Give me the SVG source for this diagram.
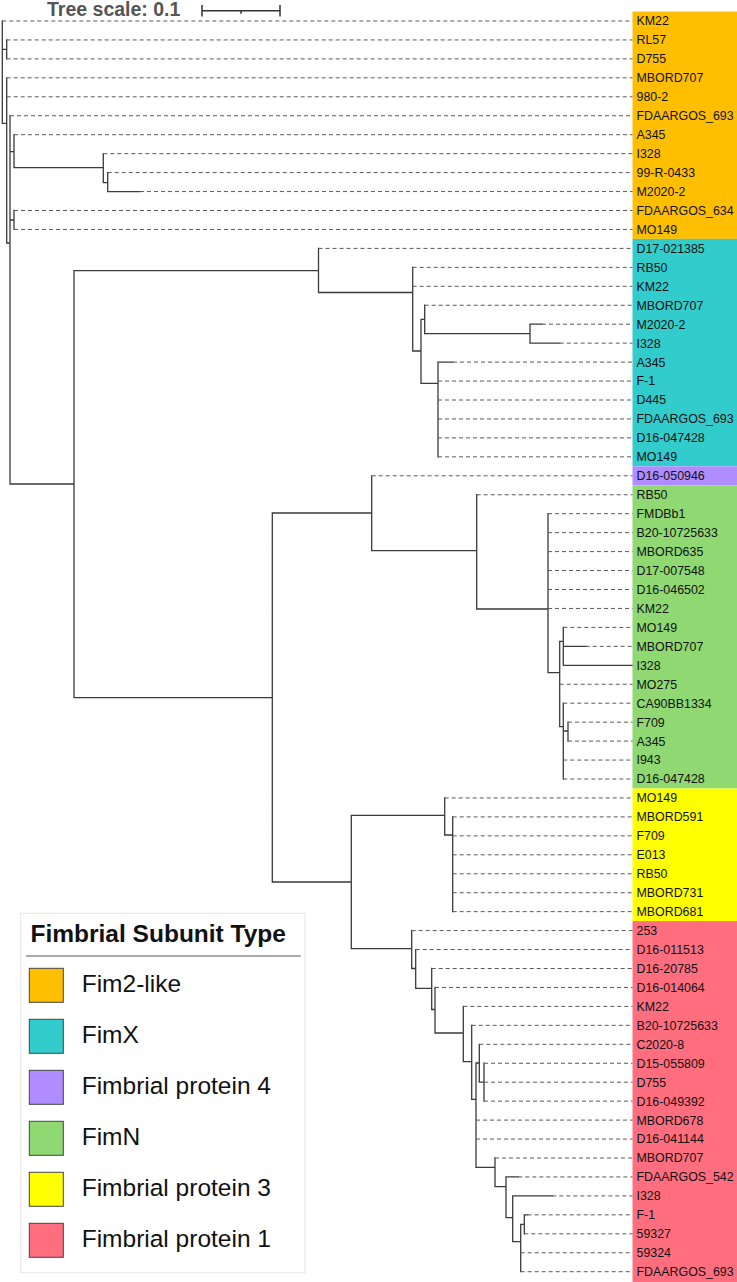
<svg xmlns="http://www.w3.org/2000/svg" width="737" height="1282" viewBox="0 0 737 1282">
<style>
.br{fill:none;stroke:#3a3a3a;stroke-width:1.3;stroke-linecap:square}
.ld{fill:none;stroke:#5a5a5a;stroke-width:1;stroke-dasharray:4 3}
.lb{font-family:"Liberation Sans",Arial,sans-serif;font-size:12.4px;fill:#111}
.lg{font-family:"Liberation Sans",Arial,sans-serif;font-size:24.5px;fill:#111}
.sw{stroke:#444;stroke-width:1}
</style>
<rect width="737" height="1282" fill="#fff"/>
<g id="scale">
<text x="47" y="15.5" font-family="'Liberation Sans',Arial,sans-serif" font-size="19.5" font-weight="bold" fill="#555">Tree scale: 0.1</text>
<path d="M202,10.7H280M202,5V16.5M280,5V16.5M241,10.7V13.8" fill="none" stroke="#333" stroke-width="1.5"/>
</g>
<g id="bands">
<rect x="632.5" y="11.5" width="104.5" height="227.4" fill="#FFBF00"/>
<rect x="632.5" y="238.9" width="104.5" height="227.4" fill="#33CCCC"/>
<rect x="632.5" y="466.3" width="104.5" height="19" fill="#AF8CFF"/>
<rect x="632.5" y="485.3" width="104.5" height="303.2" fill="#8FD872"/>
<rect x="632.5" y="788.5" width="104.5" height="132.6" fill="#FFFF00"/>
<rect x="632.5" y="921.1" width="104.5" height="360.9" fill="#FF6E7F"/>
</g>
<g id="connectors">
<path class="br" d="M2.3,21V123.3M2.3,49.3H6.7M6.7,39.95V58.9M2.3,123.3H6.7M6.7,77.85V243M6.7,243H10M10,115.75V484M10,151.7H14M14,134.7V167.7M14,167.7H103.3M103.3,153.65V182.7M103.3,182.7H107.7M107.7,172.6V191.55M107.7,191.55H140M10,220H14M14,210.5V229.45M10,484H74M74,270.7V697.7
M74,270.7H318.5M318.5,248.4V292.5M318.5,292.5H412.7M412.7,267.35V351M412.7,351H421M421,319.3V383.3M421,319.3H424.7M424.7,305.25V333.7M424.7,333.7H530M530,324.2V343.15M530,324.2H542M530,343.15H559.7M421,383.3H438M438,362.1V456.85M438,362.1H453
M74,697.7H272.3M272.3,513V882M272.3,513H371.7M371.7,475.8V550.7M371.7,550.7H476.7M476.7,494.75V609M476.7,609H548M548,513.7V672.7M548,672.7H559.7M559.7,641.3V726.7M559.7,641.3H563.3M563.3,627.4V665.3M563.3,646.35H585.7M563.3,665.3H632M559.7,726.7H563.3M563.3,703.2V779M563.3,731H568M568,722.15V741.1
M272.3,882H351.3M351.3,815.3V948.7M351.3,815.3H444.7M444.7,797.95V835M444.7,835H452.7M452.7,816.9V911.65
M351.3,948.7H411.7M411.7,930.6V968.5M411.7,968.5H415.7M415.7,949.55V988.3M415.7,988.3H431.7M431.7,968.5V1009.5M431.7,1009.5H435M435,987.45V1033M435,1033H463.3M463.3,1006.4V1061.7M463.3,1061.7H471.7M471.7,1025.35V1099.3M471.7,1099.3H476M476,1063V1167.3M476,1063H479.3M479.3,1044.3V1082.2M479.3,1082.2H484M484,1063.25V1101.15M476,1167.3H495M495,1158V1186.7M495,1186.7H506M506,1176.95V1217.7M506,1176.95H518.3M506,1217.7H512.7M512.7,1195.9V1241.7M512.7,1195.9H552.3M512.7,1241.7H520.7M520.7,1224.3V1271.7M520.7,1224.3H524.3M524.3,1214.85V1233.8M524.3,1214.85H527.7"/>
<path class="ld" d="M2.3,21H632.5M6.7,39.95H632.5M6.7,58.9H632.5M6.7,77.85H632.5M6.7,96.8H632.5M10,115.75H632.5M14,134.7H632.5M103.3,153.65H632.5M107.7,172.6H632.5M140,191.55H632.5M14,210.5H632.5M14,229.45H632.5
M318.5,248.4H632.5M412.7,267.35H632.5M412.7,286.3H632.5M424.7,305.25H632.5M542,324.2H632.5M559.7,343.15H632.5M453,362.1H632.5M438,381.05H632.5M438,400H632.5M438,418.95H632.5M438,437.9H632.5M438,456.85H632.5
M371.7,475.8H632.5
M476.7,494.75H632.5M548,513.7H632.5M548,532.65H632.5M548,551.6H632.5M548,570.55H632.5M548,589.5H632.5M548,608.45H632.5M563.3,627.4H632.5M585.7,646.35H632.5M559.7,684.25H632.5M563.3,703.2H632.5M568,722.15H632.5M568,741.1H632.5M563.3,760.05H632.5M563.3,779H632.5
M444.7,797.95H632.5M452.7,816.9H632.5M452.7,835.85H632.5M452.7,854.8H632.5M452.7,873.75H632.5M452.7,892.7H632.5M452.7,911.65H632.5
M411.7,930.6H632.5M415.7,949.55H632.5M431.7,968.5H632.5M435,987.45H632.5M463.3,1006.4H632.5M471.7,1025.35H632.5M479.3,1044.3H632.5M484,1063.25H632.5M484,1082.2H632.5M484,1101.15H632.5M476,1120.1H632.5M476,1139.05H632.5M495,1158H632.5M518.3,1176.95H632.5M552.3,1195.9H632.5M527.7,1214.85H632.5M524.3,1233.8H632.5M520.7,1252.75H632.5M520.7,1271.7H632.5"/>
</g>
<g id="leaves" class="lb">
<g id="n0"><text x="636.5" y="25.4">KM22</text></g>
<g id="n1"><text x="636.5" y="44.35">RL57</text></g>
<g id="n2"><text x="636.5" y="63.3">D755</text></g>
<g id="n3"><text x="636.5" y="82.25">MBORD707</text></g>
<g id="n4"><text x="636.5" y="101.2">980-2</text></g>
<g id="n5"><text x="636.5" y="120.15">FDAARGOS_693</text></g>
<g id="n6"><text x="636.5" y="139.1">A345</text></g>
<g id="n7"><text x="636.5" y="158.05">I328</text></g>
<g id="n8"><text x="636.5" y="177">99-R-0433</text></g>
<g id="n9"><text x="636.5" y="195.95">M2020-2</text></g>
<g id="n10"><text x="636.5" y="214.9">FDAARGOS_634</text></g>
<g id="n11"><text x="636.5" y="233.85">MO149</text></g>
<g id="n12"><text x="636.5" y="252.8">D17-021385</text></g>
<g id="n13"><text x="636.5" y="271.75">RB50</text></g>
<g id="n14"><text x="636.5" y="290.7">KM22</text></g>
<g id="n15"><text x="636.5" y="309.65">MBORD707</text></g>
<g id="n16"><text x="636.5" y="328.6">M2020-2</text></g>
<g id="n17"><text x="636.5" y="347.55">I328</text></g>
<g id="n18"><text x="636.5" y="366.5">A345</text></g>
<g id="n19"><text x="636.5" y="385.45">F-1</text></g>
<g id="n20"><text x="636.5" y="404.4">D445</text></g>
<g id="n21"><text x="636.5" y="423.35">FDAARGOS_693</text></g>
<g id="n22"><text x="636.5" y="442.3">D16-047428</text></g>
<g id="n23"><text x="636.5" y="461.25">MO149</text></g>
<g id="n24"><text x="636.5" y="480.2">D16-050946</text></g>
<g id="n25"><text x="636.5" y="499.15">RB50</text></g>
<g id="n26"><text x="636.5" y="518.1">FMDBb1</text></g>
<g id="n27"><text x="636.5" y="537.05">B20-10725633</text></g>
<g id="n28"><text x="636.5" y="556">MBORD635</text></g>
<g id="n29"><text x="636.5" y="574.95">D17-007548</text></g>
<g id="n30"><text x="636.5" y="593.9">D16-046502</text></g>
<g id="n31"><text x="636.5" y="612.85">KM22</text></g>
<g id="n32"><text x="636.5" y="631.8">MO149</text></g>
<g id="n33"><text x="636.5" y="650.75">MBORD707</text></g>
<g id="n34"><text x="636.5" y="669.7">I328</text></g>
<g id="n35"><text x="636.5" y="688.65">MO275</text></g>
<g id="n36"><text x="636.5" y="707.6">CA90BB1334</text></g>
<g id="n37"><text x="636.5" y="726.55">F709</text></g>
<g id="n38"><text x="636.5" y="745.5">A345</text></g>
<g id="n39"><text x="636.5" y="764.45">I943</text></g>
<g id="n40"><text x="636.5" y="783.4">D16-047428</text></g>
<g id="n41"><text x="636.5" y="802.35">MO149</text></g>
<g id="n42"><text x="636.5" y="821.3">MBORD591</text></g>
<g id="n43"><text x="636.5" y="840.25">F709</text></g>
<g id="n44"><text x="636.5" y="859.2">E013</text></g>
<g id="n45"><text x="636.5" y="878.15">RB50</text></g>
<g id="n46"><text x="636.5" y="897.1">MBORD731</text></g>
<g id="n47"><text x="636.5" y="916.05">MBORD681</text></g>
<g id="n48"><text x="636.5" y="935">253</text></g>
<g id="n49"><text x="636.5" y="953.95">D16-011513</text></g>
<g id="n50"><text x="636.5" y="972.9">D16-20785</text></g>
<g id="n51"><text x="636.5" y="991.85">D16-014064</text></g>
<g id="n52"><text x="636.5" y="1010.8">KM22</text></g>
<g id="n53"><text x="636.5" y="1029.75">B20-10725633</text></g>
<g id="n54"><text x="636.5" y="1048.7">C2020-8</text></g>
<g id="n55"><text x="636.5" y="1067.65">D15-055809</text></g>
<g id="n56"><text x="636.5" y="1086.6">D755</text></g>
<g id="n57"><text x="636.5" y="1105.55">D16-049392</text></g>
<g id="n58"><text x="636.5" y="1124.5">MBORD678</text></g>
<g id="n59"><text x="636.5" y="1143.45">D16-041144</text></g>
<g id="n60"><text x="636.5" y="1162.4">MBORD707</text></g>
<g id="n61"><text x="636.5" y="1181.35">FDAARGOS_542</text></g>
<g id="n62"><text x="636.5" y="1200.3">I328</text></g>
<g id="n63"><text x="636.5" y="1219.25">F-1</text></g>
<g id="n64"><text x="636.5" y="1238.2">59327</text></g>
<g id="n65"><text x="636.5" y="1257.15">59324</text></g>
<g id="n66"><text x="636.5" y="1276.1">FDAARGOS_693</text></g>
</g>
<g id="legend">
<rect x="20.7" y="913.3" width="284.3" height="359.4" fill="#fff" stroke="#e6e6e6" stroke-width="1"/>
<text class="lg" x="30.5" y="941.5" font-weight="bold">Fimbrial Subunit Type</text>
<line x1="26" y1="956" x2="300.7" y2="956" stroke="#555" stroke-width="1.2"/>
<g id="lg1"><rect class="sw" x="29.3" y="968.3" width="34" height="34" fill="#FFBF00"/><text class="lg" x="81.7" y="992.3">Fim2-like</text></g>
<g id="lg2"><rect class="sw" x="29.3" y="1019.3" width="34" height="34" fill="#33CCCC"/><text class="lg" x="81.7" y="1043.3">FimX</text></g>
<g id="lg3"><rect class="sw" x="29.3" y="1070.3" width="34" height="34" fill="#AF8CFF"/><text class="lg" x="81.7" y="1094.3">Fimbrial protein 4</text></g>
<g id="lg4"><rect class="sw" x="29.3" y="1121.3" width="34" height="34" fill="#8FD872"/><text class="lg" x="81.7" y="1145.3">FimN</text></g>
<g id="lg5"><rect class="sw" x="29.3" y="1172.3" width="34" height="34" fill="#FFFF00"/><text class="lg" x="81.7" y="1196.3">Fimbrial protein 3</text></g>
<g id="lg6"><rect class="sw" x="29.3" y="1223.3" width="34" height="34" fill="#FF6E7F"/><text class="lg" x="81.7" y="1247.3">Fimbrial protein 1</text></g>
</g>
</svg>
